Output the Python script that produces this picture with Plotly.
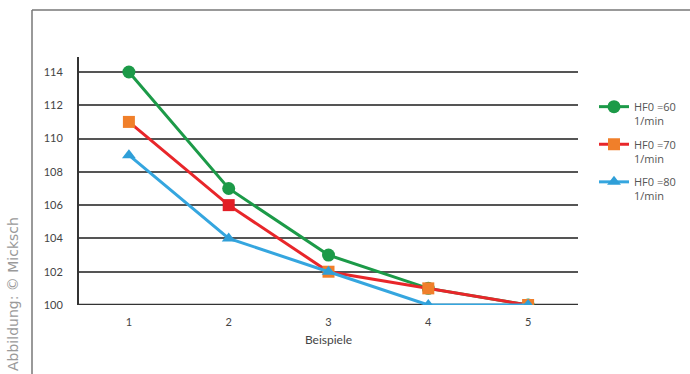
import plotly.graph_objects as go

categories = [1, 2, 3, 4, 5]
hf60 = [114, 107, 103, 101, 100]
hf70 = [111, 106, 102, 101, 100]
hf80 = [109, 104, 102, 100, 100]
names = ["HF0 =60<br>1/min", "HF0 =70<br>1/min", "HF0 =80<br>1/min"]
y_ticks = [100, 102, 104, 106, 108, 110, 112, 114]

W, H = 690, 374
L, R, T, B = 79, 578, 57, 305

fig = go.Figure()
fig.add_trace(go.Scatter(x=categories, y=hf60, name=names[0], mode="lines+markers",
                         legendgroup="a",
                         line=dict(color="#1c9a48", width=3),
                         marker=dict(symbol="circle", size=13, color="#1c9a48")))
fig.add_trace(go.Scatter(x=categories, y=hf70, name=names[1], mode="lines+markers",
                         legendgroup="b",
                         line=dict(color="#e8262a", width=3),
                         marker=dict(symbol="square", size=12,
                                     color=["#f07f2a", "#e21f26", "#f07f2a", "#f07f2a", "#f07f2a"])))
fig.add_trace(go.Scatter(x=categories, y=hf80, name=names[2], mode="lines+markers",
                         legendgroup="c",
                         line=dict(color="#35a6df", width=3),
                         marker=dict(symbol="triangle-up", size=12, color="#2f9fd8")))

# paper spans from L to W (right margin 0), plot area occupies a domain of it
pw = W - L
ph = B - T
def px(x):
    return (x - L) / pw
def py(y):
    return (B - y) / ph

dom = px(R)

fig.update_layout(
    width=W, height=H,
    margin=dict(l=L, r=0, t=T, b=H - B),
    paper_bgcolor="white", plot_bgcolor="white",
    font=dict(family="Lato", color="#444", size=11),
    showlegend=True,
    legend=dict(x=px(594), y=py(93), xanchor="left", yanchor="top",
                font=dict(family="Open Sans", size=11, color="#555"), tracegroupgap=6,
                valign="top", bgcolor="rgba(0,0,0,0)", itemwidth=30),
    xaxis=dict(domain=[0, dom], range=[0.5, 5.5], tickvals=categories,
               ticktext=[str(c) for c in categories],
               showgrid=False, zeroline=False, showline=False, ticks="",
               ticklabelstandoff=9,
               title=dict(text="Beispiele", font=dict(size=12, color="#444"), standoff=8),
               tickfont=dict(size=11, color="#444")),
    yaxis=dict(range=[100, 114.9], tickvals=y_ticks, showgrid=True, gridcolor="#555",
               gridwidth=1.5, zeroline=False, showline=True, linecolor="#333", linewidth=2,
               ticks="", tickfont=dict(size=11, color="#444"), ticklabelstandoff=12),
    shapes=[
        dict(type="line", xref="paper", yref="y", x0=0, x1=dom, y0=100, y1=100,
             line=dict(color="#333", width=2.5), layer="below"),
        dict(type="line", xref="paper", yref="paper", x0=px(32), x1=px(32), y0=py(10), y1=py(374),
             line=dict(color="#777", width=1.5)),
        dict(type="line", xref="paper", yref="paper", x0=px(32), x1=px(690), y0=py(10), y1=py(10),
             line=dict(color="#777", width=1.5)),
    ],
    annotations=[
        dict(text="Abbildung: © Micksch", xref="paper", yref="paper", x=px(13), y=py(373),
             xanchor="center", yanchor="bottom", textangle=-90, showarrow=False,
             font=dict(family="DejaVu Sans", size=14, color="#9a9a9a")),
    ],
)

fig.write_html("out.html", config={"displayModeBar": False},
               post_script="document.body.style.margin='0';")
